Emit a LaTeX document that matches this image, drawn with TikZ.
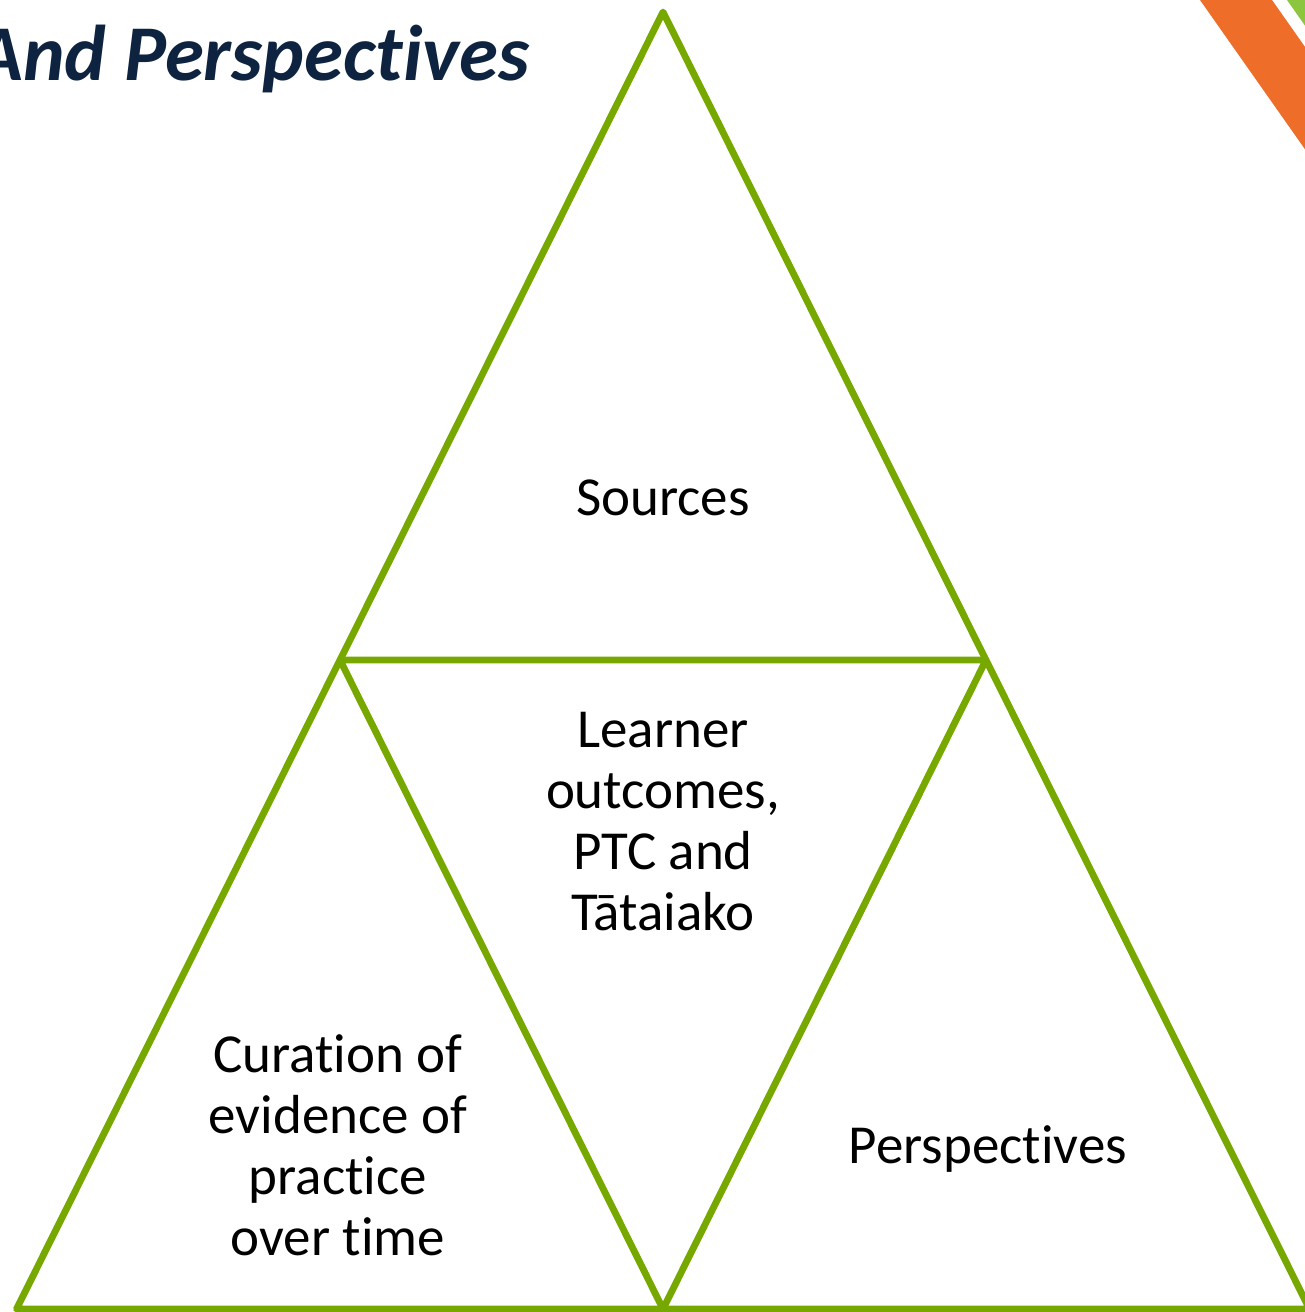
\documentclass[tikz,border=0pt]{standalone}
\usepackage{fontspec}
\setmainfont{Carlito}[Ligatures=NoCommon]
\definecolor{leaf}{HTML}{76A800}
\definecolor{navy}{HTML}{0E2340}
\definecolor{stripeorange}{HTML}{EE6D28}
\definecolor{stripegreen}{HTML}{8CC63F}
\begin{document}
\begin{tikzpicture}[x=0.5pt,y=-0.5pt,
  edge/.style={draw=leaf,line width=3.4pt,line join=round},
  label/.style={align=center,font=\fontsize{27.5pt}{30.5pt}\selectfont,inner sep=0pt,anchor=base},
  title/.style={font=\fontsize{39.5pt}{46pt}\selectfont\bfseries\itshape,text=navy,inner sep=0pt,anchor=base east}]
\useasboundingbox (0,0) rectangle (1305,1312);

% corner stripes
\begin{scope}
  \clip (0,0) rectangle (1305,1312);
  \fill[stripeorange] (1200,0) -- (1272,0) -- (1400,182) -- (1328,182) -- cycle;
  \fill[stripegreen] (1287,0) -- (1400,0) -- (1400,161) -- cycle;
\end{scope}

% heading
\node[title] (head) at (530,80) {And Perspectives};

% triangle vertices
\coordinate (apex) at (663,12);
\coordinate (ml) at (340,660);
\coordinate (mr) at (986,660);
\coordinate (bl) at (16.5,1309);
\coordinate (bm) at (663,1309);
\coordinate (br) at (1309.5,1309);

% outer triangle and inner triangle
\draw[edge] (apex) -- (bl) -- (br) -- cycle;
\draw[edge] (ml) -- (mr) -- (bm) -- cycle;

% labels (base anchor sits on the last line)
\node[label] (top) at (663,515) {Sources};
\node[label] (mid) at (663,930) {Learner\\outcomes,\\PTC and\\Tātaiako};
\node[label] (left) at (338,1255) {Curation of\\evidence of\\practice\\over time};
\node[label] (right) at (988,1163) {Perspectives};
\end{tikzpicture}
\end{document}
